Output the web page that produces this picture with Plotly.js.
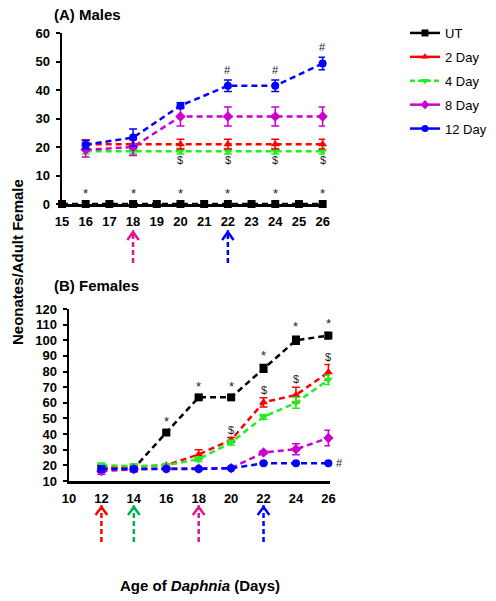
<!DOCTYPE html>
<html>
<head>
<meta charset="utf-8">
<script src="https://cdn.plot.ly/plotly-3.0.1.min.js"></script>
<style>
html,body{margin:0;padding:0;background:#fff;}
#chart{width:496px;height:601px;}
</style>
</head>
<body>
<div id="chart"></div>
<script>
// ---------- DATA ----------
var seriesNames = ['UT', '2 Day', '4 Day', '8 Day', '12 Day'];

// (A) Males
var maleDaysUT = [15, 16, 17, 18, 19, 20, 21, 22, 23, 24, 25, 26];
var maleUT     = [0, 0, 0, 0, 0, 0, 0, 0, 0, 0, 0, 0];
var maleDays   = [16, 18, 20, 22, 24, 26];
var male2      = [21, 21, 21, 21, 21, 21];
var male2Err   = [1.5, 1.5, 1.7, 1.7, 1.7, 1.7];
var male4      = [18.5, 18.5, 18.5, 18.5, 18.5, 18.5];
var male4Err   = [1, 1, 1, 1, 1, 1];
var male8      = [19, 20, 30.7, 30.7, 30.7, 30.7];
var male8Err   = [2.5, 3, 3.3, 3.3, 3.3, 3.3];
var male12     = [20.8, 23.3, 34.5, 41.5, 41.5, 49.3];
var male12Err  = [1.5, 3, 1, 2, 2, 2.2];

// (B) Females
var femDays    = [12, 14, 16, 18, 20, 22, 24, 26];
var femUT      = [18, 18, 41, 63.5, 63.5, 82, 100, 103];
var femUTErr   = [0.5, 0.5, 1, 1, 1, 2.5, 2.5, 2];
var fem2       = [19, 19, 20, 27, 36.3, 60.3, 65, 79.5];
var fem2Err    = [1, 1, 1, 3, 1.5, 3, 5, 5];
var fem4       = [20, 19.5, 20, 24, 34.6, 51, 60, 74.7];
var fem4Err    = [1.5, 1.5, 1, 1.5, 1.5, 1.5, 3.5, 3];
var fem8       = [16.3, 17.5, 18, 18, 18.2, 28.2, 30.3, 37.5];
var fem8Err    = [2, 1, 0.5, 0.5, 0.5, 1, 3.5, 5];
var fem12      = [17.7, 17.7, 17.7, 17.7, 18.2, 21.3, 21.3, 21.3];
var fem12Err   = [2, 1, 0.5, 0.5, 0.5, 0.5, 0.5, 0.5];

// significance marks
var maleStarDays   = [16, 18, 20, 22, 24, 26];
var maleDollarDays = [20, 22, 24, 26];
var maleHashDays   = [22, 24, 26];
var femStarDays    = [16, 18, 20, 22, 24, 26];
var femDollarDays  = [20, 22, 24, 26];
var femHashDays    = [26];

// treatment arrows
var maleArrowDays  = [18, 22];
var maleArrowCols  = ['#e0168c', '#0000ff'];
var femArrowDays   = [12, 14, 18, 22];
var femArrowCols   = ['#ff0000', '#00b050', '#e0168c', '#0000ff'];

// ---------- STYLE ----------
var colors  = ['#000000', '#ff0000', '#22ee22', '#cc00cc', '#0000ff'];
var symbols = ['square', 'triangle-up', 'triangle-down', 'diamond', 'circle'];
var dash = '6px,4px';

function tr(x, y, err, i, xa, ya) {
  var t = {
    x: x, y: y, xaxis: xa, yaxis: ya, type: 'scatter', mode: 'lines+markers',
    name: seriesNames[i], showlegend: false, cliponaxis: false,
    line: {color: colors[i], width: 2.5, dash: dash},
    marker: {color: colors[i], symbol: symbols[i], size: 8}
  };
  if (err) t.error_y = {type: 'data', array: err, visible: true, color: colors[i], thickness: 1.5, width: 4};
  return t;
}

var data = [
  tr(maleDays, male4, male4Err, 2, 'x', 'y'),
  tr(maleDays, male2, male2Err, 1, 'x', 'y'),
  tr(maleDays, male8, male8Err, 3, 'x', 'y'),
  tr(maleDays, male12, male12Err, 4, 'x', 'y'),
  tr(maleDaysUT, maleUT, null, 0, 'x', 'y'),
  tr(femDays, femUT, femUTErr, 0, 'x2', 'y2'),
  tr(femDays, fem2, fem2Err, 1, 'x2', 'y2'),
  tr(femDays, fem4, fem4Err, 2, 'x2', 'y2'),
  tr(femDays, fem8, fem8Err, 3, 'x2', 'y2'),
  tr(femDays, fem12, fem12Err, 4, 'x2', 'y2')
];
// legend entries
for (var i = 0; i < seriesNames.length; i++) {
  data.push({
    x: [null], y: [null], type: 'scatter', mode: 'lines+markers', name: seriesNames[i],
    legendgroup: 'g' + i, showlegend: true, xaxis: 'x', yaxis: 'y',
    line: {color: colors[i], width: 2.5, dash: i === 2 ? '5px,3px' : 'solid'},
    marker: {color: colors[i], symbol: symbols[i], size: 7}
  });
}

// ---------- ANNOTATIONS ----------
var ann = [];
function valAt(days, vals, d) { return vals[days.indexOf(d)]; }
function mark(txt, x, y, xa, ya, size, dx) {
  ann.push({text: txt, x: x, y: y, xref: xa, yref: ya, showarrow: false,
    xshift: dx || 0, font: {family: 'Liberation Sans, Arial, sans-serif', size: size || 12, color: '#222'}});
}
var DOLLAR = '&#36;';
maleStarDays.forEach(function (d) { mark('*', d, 3.8, 'x', 'y', 13); });
maleDollarDays.forEach(function (d) { mark(DOLLAR, d, valAt(maleDays, male4, d) - 3.2, 'x', 'y', 11); });
maleHashDays.forEach(function (d) {
  var i = maleDays.indexOf(d);
  mark('#', d, male12[i] + male12Err[i] + 3.5, 'x', 'y', 11);
});
femStarDays.forEach(function (d) {
  var i = femDays.indexOf(d);
  mark('*', d, femUT[i] + femUTErr[i] + 6, 'x2', 'y2', 13);
});
femDollarDays.forEach(function (d) {
  var i = femDays.indexOf(d);
  mark(DOLLAR, d, fem2[i] + fem2Err[i] + 5, 'x2', 'y2', 11);
});
femHashDays.forEach(function (d) {
  mark('#', d, valAt(femDays, fem12, d), 'x2', 'y2', 11, 11);
});

var FONT = 'Liberation Sans, Arial, sans-serif';
ann.push({text: '<b>(A) Males</b>', x: 52 / 496, y: 1 - 15 / 601, xref: 'paper', yref: 'paper',
  xanchor: 'left', yanchor: 'middle', showarrow: false, font: {family: FONT, size: 15, color: '#000'}});
ann.push({text: '<b>(B) Females</b>', x: 52 / 496, y: 1 - 285 / 601, xref: 'paper', yref: 'paper',
  xanchor: 'left', yanchor: 'middle', showarrow: false, font: {family: FONT, size: 15, color: '#000'}});
ann.push({text: '<b>Neonates/Adult Female</b>', x: 17 / 496, y: 1 - 262 / 601, xref: 'paper', yref: 'paper',
  textangle: -90, xanchor: 'center', yanchor: 'middle', showarrow: false, font: {family: FONT, size: 15, color: '#000'}});
ann.push({text: '<b>Age of <i>Daphnia</i> (Days)</b>', x: 200 / 496, y: 1 - 585 / 601, xref: 'paper', yref: 'paper',
  xanchor: 'center', yanchor: 'middle', showarrow: false, font: {family: FONT, size: 15, color: '#000'}});

// ---------- ARROWS ----------
var shapes = [];
function arrow(day, col, xa, yTopPx, yBotPx, halfW) {
  var yt = 1 - yTopPx / 601, yb = 1 - yBotPx / 601, ya = 1 - (yTopPx + 8) / 601;
  shapes.push({type: 'line', xref: xa, yref: 'paper', x0: day, x1: day, y0: yb, y1: yt + 0.003,
    line: {color: col, width: 2.5, dash: '5px,3px'}});
  shapes.push({type: 'path', xref: xa, yref: 'paper',
    path: 'M ' + (day - halfW) + ' ' + ya + ' L ' + day + ' ' + yt + ' L ' + (day + halfW) + ' ' + ya,
    line: {color: col, width: 2.5}});
}
maleArrowDays.forEach(function (d, i) { arrow(d, maleArrowCols[i], 'x', 232, 263, 0.24); });
femArrowDays.forEach(function (d, i) { arrow(d, femArrowCols[i], 'x2', 507, 542, 0.36); });

// ---------- LAYOUT ----------
var tickFont = {family: FONT, size: 13, color: '#000', weight: 'bold'};
var axBase = {showgrid: false, zeroline: false, showline: true, linecolor: '#000', linewidth: 2.5,
  tickfont: tickFont, ticks: 'outside', ticklen: 4, tickwidth: 2, tickcolor: '#000', fixedrange: true};
function ax(o) { var r = {}; for (var k in axBase) r[k] = axBase[k]; for (var k2 in o) r[k2] = o[k2]; return r; }

var layout = {
  width: 496, height: 601,
  margin: {l: 0, r: 0, t: 0, b: 0},
  paper_bgcolor: '#fff', plot_bgcolor: 'rgba(0,0,0,0)',
  showlegend: true,
  legend: {x: 405 / 496, y: 1 - 18 / 601, xanchor: 'left', yanchor: 'top',
    font: {family: FONT, size: 13, color: '#000'}, tracegroupgap: 4, itemwidth: 30,
    bgcolor: 'rgba(0,0,0,0)'},
  xaxis: ax({domain: [62 / 496, 325 / 496], range: [15, 26.1], tickmode: 'linear', tick0: 15, dtick: 1,
    ticks: '', anchor: 'y', ticklabelstandoff: 4}),
  yaxis: ax({domain: [1 - 204 / 601, 1 - 33 / 601], range: [0, 60], tickmode: 'linear', tick0: 0, dtick: 10,
    anchor: 'x', ticklabelstandoff: 3}),
  xaxis2: ax({domain: [69 / 496, 330 / 496], range: [10, 26.1], tickmode: 'linear', tick0: 10, dtick: 2,
    ticks: '', anchor: 'y2', ticklabelstandoff: 4}),
  yaxis2: ax({domain: [1 - 481 / 601, 1 - 309 / 601], range: [10, 120], tickmode: 'linear', tick0: 10, dtick: 10,
    anchor: 'x2', ticklabelstandoff: 3}),
  annotations: ann,
  shapes: shapes
};

Plotly.newPlot('chart', data, layout, {staticPlot: true, displayModeBar: false});
</script>
</body>
</html>
